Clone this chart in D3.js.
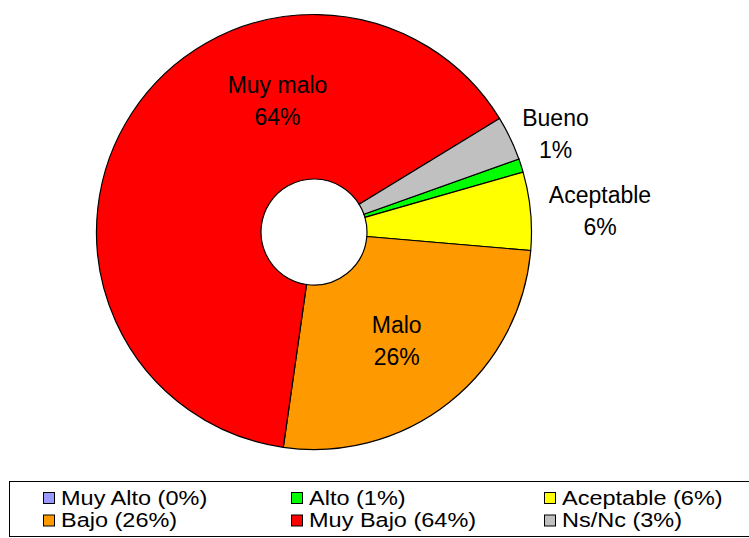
<!DOCTYPE html>
<html>
<head>
<meta charset="utf-8">
<script src="https://cdn.jsdelivr.net/npm/d3@7/dist/d3.min.js"></script>
<style>
  body { margin: 0; background: #fff; }
  text { font-family: Arial, "Liberation Sans", sans-serif; fill: #000; }
</style>
</head>
<body>
<div id="chart"></div>
<script>
var categories = ["Muy Alto", "Alto", "Aceptable", "Bajo", "Muy Bajo", "Ns/Nc"];
var values = [0, 1.0, 5.8, 25.9, 64.0, 3.3];
var legendPercents = [0, 1, 6, 26, 64, 3];
var sliceLabels = ["", "Bueno", "Aceptable", "Malo", "Muy malo", ""];
var sliceLabelPercents = ["", "1%", "6%", "26%", "64%", ""];
var COLORS = ["#9999ff", "#00ff00", "#ffff00", "#ff9900", "#ff0000", "#c0c0c0"];

var WIDTH = 749;
var HEIGHT = 538;
var CX = 314;
var CY = 232;
var OUTER_R = 217.5;
var INNER_R = 53;
var START_DEG = 70.4;
var LINE_GAP = 31.5;

// label anchors relative to the pie centre (first line baseline)
var labelOffsets = [null, [241.5, -106], [286, -29], [82.7, 101.3], [-36.5, -139], null];

var svg = d3.select("#chart").append("svg")
	.attr("width", WIDTH)
	.attr("height", HEIGHT);

var pie = d3.pie()
	.sort(null)
	.value(d => d)
	.startAngle(START_DEG * Math.PI / 180)
	.endAngle((START_DEG + 360) * Math.PI / 180);

var arc = d3.arc()
	.innerRadius(INNER_R)
	.outerRadius(OUTER_R);

var g = svg.append("g").attr("transform", "translate(" + CX + "," + CY + ")");

g.selectAll("path")
	.data(pie(values))
	.enter()
	.append("path")
	.attr("d", arc)
	.attr("fill", (d, i) => COLORS[i])
	.attr("stroke", "#000")
	.attr("stroke-width", 1.2)
	.attr("stroke-linejoin", "round");

var labels = g.selectAll("text.lbl")
	.data(categories.map((c, i) => i).filter(i => labelOffsets[i]))
	.enter()
	.append("text")
	.attr("class", "lbl")
	.attr("text-anchor", "middle")
	.style("font-size", "23px");

labels.append("tspan")
	.attr("x", i => labelOffsets[i][0])
	.attr("y", i => labelOffsets[i][1])
	.text(i => sliceLabels[i]);

labels.append("tspan")
	.attr("x", i => labelOffsets[i][0])
	.attr("y", i => labelOffsets[i][1] + LINE_GAP)
	.text(i => sliceLabelPercents[i]);

/* legend */
var LEG_X = 9.5, LEG_Y = 481.5, LEG_W = 760, LEG_H = 55;
var COL_X = [43, 291, 544];
var ROW_Y = [504.5, 527];
var SW = 11;

svg.append("rect")
	.attr("x", LEG_X)
	.attr("y", LEG_Y)
	.attr("width", LEG_W)
	.attr("height", LEG_H)
	.attr("fill", "#fff")
	.attr("stroke", "#000")
	.attr("stroke-width", 1);

var items = svg.selectAll("g.leg")
	.data(categories)
	.enter()
	.append("g")
	.attr("class", "leg")
	.attr("transform", (d, i) => "translate(" + COL_X[i % 3] + "," + ROW_Y[Math.floor(i / 3)] + ")");

items.append("rect")
	.attr("x", 0.5)
	.attr("y", -12)
	.attr("width", SW)
	.attr("height", SW)
	.attr("fill", (d, i) => COLORS[i])
	.attr("stroke", "#000")
	.attr("stroke-width", 1);

// legend text is a little wider and flatter than the slice labels
items.append("text")
	.attr("transform", "translate(18,0) scale(1,0.88)")
	.style("font-size", "23.5px")
	.text((d, i) => d + " (" + legendPercents[i] + "%)");
</script>
</body>
</html>
